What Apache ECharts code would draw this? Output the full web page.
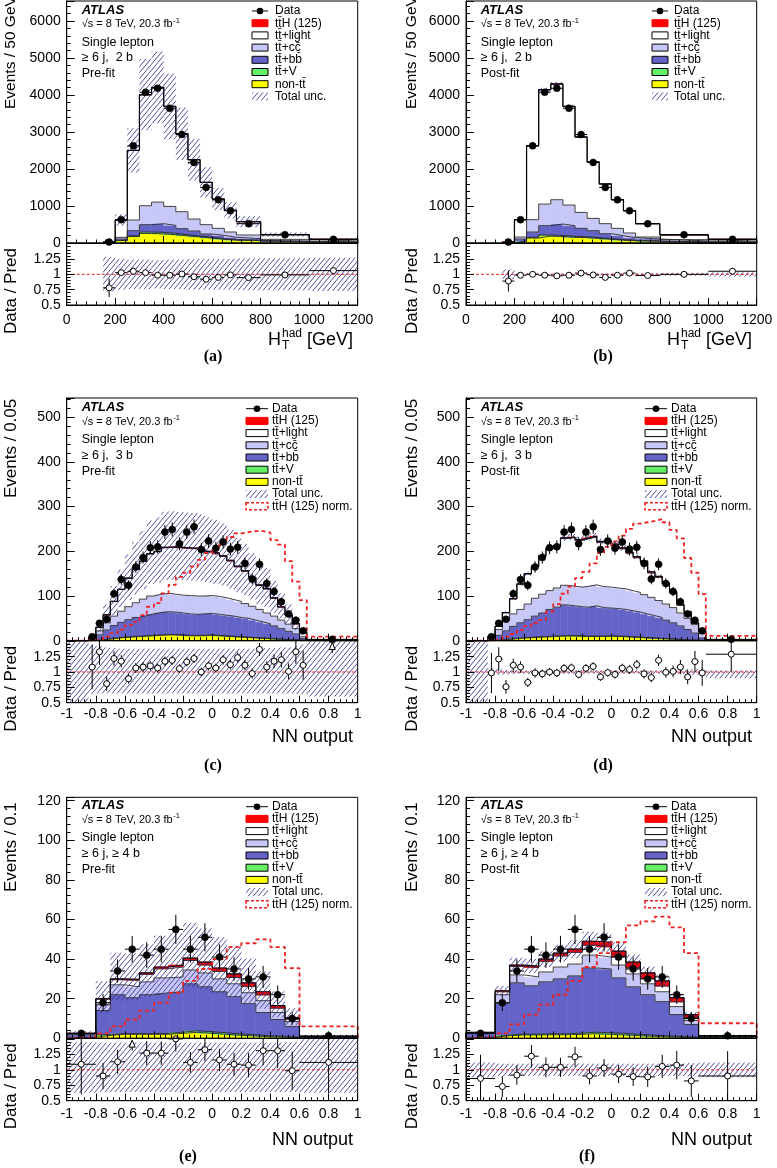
<!DOCTYPE html>
<html>
<head>
<meta charset="utf-8">
<title>ttH single lepton</title>
<script src="https://cdn.jsdelivr.net/npm/echarts@6.0.0/dist/echarts.min.js"></script>
<style>
html,body{margin:0;padding:0;background:#ffffff;}
#chart{width:777px;height:1168px;}
</style>
</head>
<body>
<div id="chart"></div>
<script>
// ================= DATA =================
// ---- (a),(b): H_T^had, >=6j 2b ----
const htEdges = [150,200,250,300,350,400,450,500,550,600,650,700,800,1000,1200];
const htData  = [27,630,2626,4074,4182,3642,2932,2176,1502,1169,872,522,225,100];
// pre-fit components
const aNonTT   = [4.5,64,173,257,246,223,193,163,133,101,78,62,31,15];
const aTTV     = [0.5,8,25,40,42,38,32,26,20,16,12,10,5,3];
const aTTbb    = [3,36,135,198,234,216,162,135,90,90,63,45,18,9];
const aTTcc    = [4,45,287,512,584,512,458,323,252,189,144,99,45,27];
const aTTlight = [23,467,1880,2995,3094,2698,2105,1601,1142,791,584,359,126,46];
const aTTH     = [0.1,1,4,6,7,6,5,4,3,2,2,1,0.5,0.3];
const aUnc     = [0.28,0.25,0.24,0.24,0.23,0.24,0.24,0.25,0.25,0.25,0.25,0.26,0.26,0.27];
const aRatio   = [0.78,1.027,1.05,1.027,0.985,0.985,1.005,0.96,0.92,0.95,0.99,0.946,0.99,1.06];
// post-fit components
const bNonTT   = [2.5,48,135,186,175,152,147,124,101,78,63,47,23,15.5];
const bTTV     = [0.5,6,18,30,32,28,24,20,16,12,9,7,4,2.5];
const bTTbb    = [3,54,144,252,306,288,225,189,135,108,72,54,27,9];
const bTTcc    = [4,54,333,584,656,557,431,332,270,198,126,54,36,27];
const bTTlight = [20,468,1996,3085,3121,2662,2033,1520,1070,773,602,360,130,46];
const bTTH     = [0.1,1.5,6,9,10,9,7,6,4,3,2.5,1.5,0.8,0.4];
const bUnc     = [0.08,0.015,0.012,0.012,0.012,0.012,0.013,0.014,0.015,0.016,0.018,0.02,0.025,0.035];
const bRatio   = [0.89,0.985,1.0,0.985,0.975,0.985,1.02,0.99,0.95,0.985,1.02,0.98,1.0,1.05];

// ---- (c),(d): NN output, >=6j 3b ----
const nn3Edges = [-1,-0.85,-0.8,-0.75,-0.7,-0.65,-0.6,-0.55,-0.5,-0.45,-0.4,-0.35,-0.3,-0.25,-0.2,-0.15,-0.1,-0.05,0,0.05,0.1,0.15,0.2,0.25,0.3,0.35,0.4,0.45,0.5,0.55,0.6,0.65,1];
const nn3Data  = [null,9,39,48,105,137,124,165,186,208,210,243,249,217,243,255,204,223,207,221,205,209,173,138,171,128,110,87,60,46,22,3];
const cNonTT   = [0,0.5,1.8,3.7,5.5,7.4,8.3,9.2,10.1,11,12,12.9,12.9,11.9,11,11,11,12,11,10.1,9.1,8.2,7.3,6.4,5.5,4.6,3.7,2.7,1.8,1.4,0.45,0.1];
const cTTV     = [0,0,0.2,0.3,0.5,0.6,0.7,0.8,0.9,1.0,1.0,1.1,1.1,1.1,1.0,1.0,1.0,1.0,1.0,0.9,0.9,0.8,0.7,0.6,0.5,0.4,0.3,0.3,0.2,0.1,0.05,0];
const cTTbb    = [0,1.5,11,20,28,33,38,42,45,48,50,51,50,49,48,47,48,48,47,46,45,43,42,39,36,33,29,24,19,13.5,4.5,0.4];
const cTTcc    = [0,1,9,16,21,25,29,33,37,40,41,41,40,40,41,41,40,40,40,39,37,36,33,31,28,24,22,19,16,12,4,0.5];
const cTTlight = [0.1,4,7.9,17.8,32.7,48.6,63.5,74.4,84.3,94.2,95.1,102,104.9,105.8,105.7,105.6,103.5,97.4,95.4,92.3,86.3,77.3,72.4,63.4,53.5,53.5,39.7,28.9,20.1,10.3,9.7,0.45];
const cTTH     = [0,0,0.1,0.2,0.3,0.4,0.5,0.6,0.7,0.8,0.9,1.0,1.1,1.2,1.3,1.4,1.5,1.6,1.6,1.7,1.7,1.7,1.6,1.6,1.5,1.5,1.3,1.1,0.9,0.7,0.3,0.05];
const cUncUp   = [1.0,0.45,0.42,0.40,0.39,0.38,0.38,0.38,0.38,0.38,0.38,0.38,0.38,0.38,0.38,0.38,0.38,0.38,0.38,0.38,0.38,0.38,0.38,0.38,0.38,0.39,0.39,0.40,0.40,0.42,0.45,0.5];
const cUncDn   = [1.0,0.36,0.35,0.35,0.35,0.35,0.35,0.35,0.35,0.35,0.35,0.35,0.35,0.35,0.35,0.35,0.35,0.35,0.35,0.35,0.35,0.35,0.35,0.35,0.35,0.35,0.35,0.35,0.35,0.36,0.36,0.4];
const cNorm    = [0,1,3,9,17,25,35,42,57,76,84,106,125,143,152,166,181,196,207,219,232,240,243,245,245,242,225,215,178,132,91,9];
const cRatio   = [null,1.08,1.33,0.81,1.22,1.175,0.89,1.065,1.08,1.1,1.065,1.175,1.19,1.055,1.165,1.22,1.0,1.1,1.065,1.2,1.12,1.235,1.11,0.975,1.37,1.08,1.175,1.2,1.01,1.33,1.11,1.8];

const dNonTT   = [0,0.4,1.6,3.2,4.5,5.9,6.8,7.7,8.6,9.0,10.0,10.4,10.4,9.9,9.5,9.5,9.5,10.0,9.5,9.1,8.1,7.2,6.3,5.4,4.5,4.1,3.2,2.2,1.6,1.1,0.45,0.1];
const dTTV     = [0,0,0.2,0.3,0.5,0.6,0.7,0.8,0.9,1.0,1.0,1.1,1.1,1.1,1.0,1.0,1.0,1.0,1.0,0.9,0.9,0.8,0.7,0.6,0.5,0.4,0.3,0.3,0.2,0.1,0.05,0];
const dTTbb    = [0,1.6,10.2,18.5,27,33.5,39.5,46.5,52.5,60,64,68.5,66.5,65,64.5,67.5,63.5,62,61.5,60,58,56,53,50,47,41.5,36.5,30.5,23.2,15.8,5.5,0.4];
const dTTcc    = [0,1,13,23,28,30,35,40,42,42,43,44,44,44,47,47,47,47,46,46,45,44,43,41,38,36,34,29,25,19,10,0.5];
const dTTlight = [0.1,6,6.9,17.8,33.6,56.5,67.4,71.2,85,93.9,92.8,104.6,108.5,104.4,106.3,107.1,99,101.9,95.8,89.7,83.7,77.6,72.6,54.7,51.7,44.8,33,17.3,13.6,3,5.5,0.45];
const dTTH     = [0,0,0.1,0.2,0.4,0.5,0.6,0.8,1.0,1.1,1.2,1.4,1.5,1.6,1.7,1.9,2.0,2.1,2.2,2.3,2.3,2.4,2.4,2.3,2.3,2.2,2.0,1.7,1.4,1.0,0.5,0.05];
const dUncUp   = [1.0,0.06,0.05,0.04,0.035,0.03,0.03,0.03,0.03,0.03,0.03,0.03,0.03,0.03,0.03,0.03,0.03,0.03,0.03,0.03,0.03,0.03,0.03,0.03,0.03,0.03,0.035,0.035,0.04,0.05,0.06,0.03];
const dUncDn   = [1.0,0.06,0.05,0.04,0.035,0.03,0.03,0.03,0.03,0.03,0.03,0.03,0.03,0.03,0.03,0.03,0.03,0.03,0.03,0.03,0.03,0.03,0.03,0.03,0.03,0.03,0.035,0.035,0.04,0.05,0.06,0.1];
const dNorm    = [0,1,4,9,15,24,33,40,46,65,82,105,121,140,154,173,196,210,222,235,250,262,265,268,272,265,248,229,185,152,104,11];
const dRatio   = [null,0.985,1.21,0.76,1.11,1.08,0.83,0.985,0.97,1.0,0.985,1.06,1.07,0.96,1.06,1.09,0.92,0.99,0.96,1.065,1.04,1.12,0.97,0.91,1.19,0.995,1.01,1.08,0.92,1.17,0.985,1.29];

// ---- (e),(f): NN output, >=6j >=4b ----
const nn4Edges = [-1,-0.8,-0.7,-0.6,-0.5,-0.4,-0.3,-0.2,-0.1,0,0.1,0.2,0.3,0.4,0.5,0.6,1];
const nn4Data  = [2.5,18,34,45,42,45,55,45,51,41,35,30,31,22,10,1.25];
const eNonTT   = [0.5,1.5,2,2,2,2,2.5,3,2.5,2,1.5,1.2,0.8,0.6,0.4,0.1];
const eTTV     = [0.1,0.3,0.4,0.4,0.4,0.5,0.6,0.8,0.8,0.8,0.7,0.6,0.5,0.4,0.2,0.05];
const eTTbb    = [1.2,12.2,19.6,18.1,19.6,20.5,20.4,23.7,22.7,20.7,18.8,15.7,11.7,8.5,5.4,0.25];
const eTTcc    = [0.4,3,5,5.5,6.5,7.5,7.5,7,7,6.5,6.5,5.5,6,3.5,2.5,0.2];
const eTTlight = [0.25,2.8,2.6,3.3,3.8,4.6,5.0,4.8,4.0,3.8,3.2,3.2,2.9,2.2,1.1,0.05];
const eTTH     = [0.05,0.2,0.4,0.5,0.7,0.9,1.0,1.2,1.5,1.7,1.8,1.8,1.6,1.3,0.9,0.2];
const eUncUp   = [0.45,0.44,0.44,0.44,0.44,0.44,0.44,0.44,0.44,0.44,0.44,0.44,0.44,0.44,0.45,0.5];
const eUncDn   = [0.37,0.36,0.36,0.36,0.36,0.36,0.36,0.36,0.36,0.36,0.36,0.36,0.36,0.36,0.36,0.37];
const eNorm    = [0.5,2.5,6,9.5,14,18,23,29,35,40,46,48,50,46,35.4,6];
const eRatio   = [1.09,0.9,1.13,1.55,1.27,1.27,1.5,1.12,1.325,1.16,1.09,1.076,1.31,1.31,0.985,1.12];

const fNonTT   = [0.5,1.3,1.7,1.7,1.8,1.8,2.0,2.3,2.0,1.7,1.3,1.0,0.7,0.5,0.3,0.1];
const fTTV     = [0.1,0.3,0.4,0.4,0.5,0.5,0.6,0.8,0.8,0.8,0.7,0.6,0.5,0.4,0.2,0.05];
const fTTbb    = [1.7,15.9,25.9,24.4,26.2,27.7,28.9,32.4,32.2,28,24,20.4,17.3,11.1,6.5,0.55];
const fTTcc    = [0.4,4.5,4,4.5,5,6,6,6.5,6,6.5,6.5,5.5,5,4,2,0.2];
const fTTlight = [0.2,1.5,4.3,4.7,5.4,5.6,5.9,5.0,5.1,4.3,3.1,2.7,2.9,2.4,1.5,0.15];
const fTTH     = [0.1,0.5,0.7,0.8,1.1,1.4,1.6,2.0,2.4,2.7,2.9,2.8,2.6,2.1,1.5,0.3];
const fUnc     = [0.12,0.1,0.1,0.1,0.1,0.1,0.1,0.1,0.1,0.1,0.1,0.1,0.1,0.1,0.11,0.12];
const fNorm    = [0.5,2.5,7,12,17,22,29,36,43,48.5,57,59,61.4,56,43,7.6];
const fRatio   = [0.86,0.73,0.914,1.22,1.04,1.04,1.21,0.90,1.03,0.93,0.89,0.886,1.055,1.076,0.82,0.90];

// tick labels
const htTickLabels   = [0,200,400,600,800,1000,1200];
const nnTickLabels   = [-1,-0.8,-0.6,-0.4,-0.2,0,0.2,0.4,0.6,0.8,1];
const yTickLabelsHT  = [0,1000,2000,3000,4000,5000,6000];
const yTickLabelsNN3 = [0,100,200,300,400,500];
const yTickLabelsNN4 = [0,20,40,60,80,100,120];
const ratioTickLabels = [0.5,0.75,1,1.25];

// legend names
const legendNames = ['Data','tt\u0304H (125)','tt\u0304+light','tt\u0304+cc\u0304','tt\u0304+bb\u0304','tt\u0304+V','non-tt\u0304','Total unc.','tt\u0304H (125) norm.'];

// ================= STYLE / LAYOUT =================
const FONT = '"Liberation Sans", Arial, Helvetica, sans-serif';
const SERIF = '"Liberation Serif", "Times New Roman", serif';
const COMP_COLORS = ['#ffff00','#66ee66','#6464c8','#c8c8f8','#ffffff','#ff0000']; // nonTT, ttV, ttbb, ttcc, light, ttH
const HATCH_COLOR = '#2a2a8a';
const RMIN = 0.5, RMAX = 1.51;

const ROWS = [
  {mainTop:1,     mainBot:243,    ratBot:305,    yMax:6540,  yInt:1000, yTicks:yTickLabelsHT,  xMin:0,  xMax:1200, xInt:200, xTicks:htTickLabels, xLabMargin:8, xTitleY:340, capY:357, off:0,     yTitleBottom:109, yTitleSize:15.5},
  {mainTop:398,   mainBot:640.7,  ratBot:702.7,  yMax:543,   yInt:100,  yTicks:yTickLabelsNN3, xMin:-1, xMax:1,    xInt:0.2, xTicks:nnTickLabels, xLabMargin:4, xTitleY:737, capY:766, off:397.7, yTitleBottom:498, yTitleSize:17},
  {mainTop:797.3, mainBot:1038.3, ratBot:1100.7, yMax:121.7, yInt:20,   yTicks:yTickLabelsNN4, xMin:-1, xMax:1,    xInt:0.2, xTicks:nnTickLabels, xLabMargin:6, xTitleY:1140, capY:1157, off:795.7, yTitleBottom:892, yTitleSize:17}
];
const COLS = [{left:66.7, right:357.7, textX:81.7, titleX:11, xTitleR:353}, {left:466, right:756.7, textX:480.7, titleX:412, xTitleR:752}];

const panels = [
  {row:0,col:0, edges:htEdges, data:htData, nom:50, comps:[aNonTT,aTTV,aTTbb,aTTcc,aTTlight,aTTH], up:aUnc, dn:aUnc, ratio:aRatio, norm:null,
   chan:'\u2265 6 j,  2 b', fit:'Pre-fit', cap:'(a)', capX:213, ytitle:'Events / 50 GeV', leg:{sx:252, sw:16, tx:275}},
  {row:0,col:1, edges:htEdges, data:htData, nom:50, comps:[bNonTT,bTTV,bTTbb,bTTcc,bTTlight,bTTH], up:bUnc, dn:bUnc, ratio:bRatio, norm:null,
   chan:'\u2265 6 j,  2 b', fit:'Post-fit', cap:'(b)', capX:603, ytitle:'Events / 50 GeV', leg:{sx:652, sw:16, tx:674}},
  {row:1,col:0, edges:nn3Edges, data:nn3Data, nom:0.05, comps:[cNonTT,cTTV,cTTbb,cTTcc,cTTlight,cTTH], up:cUncUp, dn:cUncDn, ratio:cRatio, norm:cNorm,
   chan:'\u2265 6 j,  3 b', fit:'Pre-fit', cap:'(c)', capX:213, ytitle:'Events / 0.05', leg:{sx:246, sw:22, tx:272}},
  {row:1,col:1, edges:nn3Edges, data:nn3Data, nom:0.05, comps:[dNonTT,dTTV,dTTbb,dTTcc,dTTlight,dTTH], up:dUncUp, dn:dUncDn, ratio:dRatio, norm:dNorm,
   chan:'\u2265 6 j,  3 b', fit:'Post-fit', cap:'(d)', capX:603, ytitle:'Events / 0.05', leg:{sx:645, sw:22, tx:671}},
  {row:2,col:0, edges:nn4Edges, data:nn4Data, nom:0.1, comps:[eNonTT,eTTV,eTTbb,eTTcc,eTTlight,eTTH], up:eUncUp, dn:eUncDn, ratio:eRatio, norm:eNorm,
   chan:'\u2265 6 j, \u2265 4 b', fit:'Pre-fit', cap:'(e)', capX:188, ytitle:'Events / 0.1', leg:{sx:246, sw:22, tx:272}},
  {row:2,col:1, edges:nn4Edges, data:nn4Data, nom:0.1, comps:[fNonTT,fTTV,fTTbb,fTTcc,fTTlight,fTTH], up:fUnc, dn:fUnc, ratio:fRatio, norm:fNorm,
   chan:'\u2265 6 j, \u2265 4 b', fit:'Post-fit', cap:'(f)', capX:587, ytitle:'Events / 0.1', leg:{sx:645, sw:22, tx:671}}
];

// ================= HELPERS =================
function makeHatch() {
  const w = 5, h = 6, c = document.createElement('canvas');
  c.width = w; c.height = h;
  const g = c.getContext('2d');
  g.strokeStyle = HATCH_COLOR; g.lineWidth = 0.85;
  g.beginPath();
  [-w, 0, w].forEach(dx => { g.moveTo(dx, h); g.lineTo(dx + w, 0); });
  g.stroke();
  return c;
}
const hatchFill = {image: makeHatch(), repeat: 'repeat'};

const mctx = document.createElement('canvas').getContext('2d');
function tw(s, size, weight) { mctx.font = (weight || 'normal') + ' ' + size + 'px ' + FONT; return mctx.measureText(s).width; }

function inList(list, v) { return list.some(t => Math.abs(t - v) < 1e-6); }

function rectRender(fill, stroke, lw) {
  return function (params, api) {
    const a = api.coord([api.value(0), api.value(2)]);
    const b = api.coord([api.value(1), api.value(3)]);
    return {type: 'rect', shape: {x: a[0], y: b[1], width: b[0] - a[0], height: a[1] - b[1]},
      style: {fill: fill, stroke: stroke, lineWidth: lw || 0}};
  };
}

function pointsRender(open, r, yMin, yMax) {
  return function (params, api) {
    const x = api.value(0), y = api.value(1), lo = api.value(2), hi = api.value(3), e = api.value(4);
    const st = {stroke: '#000', lineWidth: 1};
    const ch = [];
    if (y > yMax) {
      const p0 = api.coord([x, yMax - 0.2]), p1 = api.coord([x, yMax - 0.03]);
      ch.push({type: 'line', shape: {x1: p0[0], y1: p0[1], x2: p1[0], y2: p1[1] + 6}, style: st});
      ch.push({type: 'polygon', shape: {points: [[p1[0] - 3, p1[1] + 7], [p1[0] + 3, p1[1] + 7], [p1[0], p1[1]]]},
        style: {fill: '#fff', stroke: '#000', lineWidth: 1}});
      return {type: 'group', children: ch};
    }
    const c = api.coord([x, y]);
    const l = api.coord([lo, y]), h = api.coord([hi, y]);
    const t = api.coord([x, Math.min(y + e, yMax)]), b = api.coord([x, Math.max(y - e, yMin)]);
    ch.push({type: 'line', shape: {x1: l[0], y1: l[1], x2: h[0], y2: h[1]}, style: st});
    ch.push({type: 'line', shape: {x1: t[0], y1: t[1], x2: b[0], y2: b[1]}, style: st});
    ch.push({type: 'circle', shape: {cx: c[0], cy: c[1], r: r},
      style: open ? {fill: '#fff', stroke: '#000', lineWidth: 1} : {fill: '#000', stroke: '#000', lineWidth: 0.5}});
    return {type: 'group', children: ch};
  };
}

function stepSeries(ax, edges, vals, color, width, type, z) {
  const d = [[edges[0], 0]];
  vals.forEach((v, i) => d.push([edges[i], v]));
  d.push([edges[edges.length - 1], vals[vals.length - 1]]);
  d.push([edges[edges.length - 1], 0]);
  return {type: 'line', xAxisIndex: ax, yAxisIndex: ax, data: d, step: 'end', symbol: 'none', showSymbol: false,
    lineStyle: {color: color, width: width, type: type}, z: z, silent: true, animation: false};
}

function txt(x, y, s, size, o) {
  o = o || {};
  return {type: 'text', x: x, y: y, rotation: o.rot || 0, z: 200, silent: true,
    style: {text: s, fontSize: size, fontFamily: o.family || FONT, fontWeight: o.weight || 'normal',
      fontStyle: o.fstyle || 'normal', fill: '#000',
      textAlign: o.align || 'left', align: o.align || 'left',
      textVerticalAlign: o.valign || 'middle', verticalAlign: o.valign || 'middle'}};
}

function xAxisCfg(gi, row, labels) {
  return {type: 'value', gridIndex: gi, min: row.xMin, max: row.xMax, interval: row.xInt, z: 10,
    axisLine: {show: true, onZero: false, lineStyle: {color: '#000', width: 1}},
    axisTick: {show: true, inside: true, length: 7, lineStyle: {color: '#000', width: 1}},
    minorTick: {show: true, splitNumber: 5, length: 3.5, lineStyle: {color: '#000', width: 1}},
    splitLine: {show: false}, minorSplitLine: {show: false},
    axisLabel: {show: labels, color: '#000', fontSize: 14, fontFamily: FONT, margin: row.xLabMargin,
      formatter: v => inList(row.xTicks, v) ? String(Math.round(v * 100) / 100) : ''}};
}
function yAxisCfg(gi, min, max, interval, ticks, minorSplit) {
  return {type: 'value', gridIndex: gi, min: min, max: max, interval: interval, z: 10,
    axisLine: {show: true, onZero: false, lineStyle: {color: '#000', width: 1}},
    axisTick: {show: true, inside: true, length: 8, lineStyle: {color: '#000', width: 1}},
    minorTick: {show: true, splitNumber: minorSplit, length: 4, lineStyle: {color: '#000', width: 1}},
    splitLine: {show: false}, minorSplitLine: {show: false},
    axisLabel: {show: true, color: '#000', fontSize: 14, fontFamily: FONT, margin: 6,
      formatter: v => inList(ticks, v) ? String(Math.round(v * 100) / 100) : ''}};
}

// ================= BUILD =================
const grids = [], xAxes = [], yAxes = [], series = [], graphics = [];

panels.forEach((p, k) => {
  const row = ROWS[p.row], col = COLS[p.col];
  const gm = 2 * k, gr = 2 * k + 1;
  const width = col.right - col.left;
  grids.push({left: col.left, top: row.mainTop, width: width, height: row.mainBot - row.mainTop, outerBoundsMode: 'none', containLabel: false});
  grids.push({left: col.left, top: row.mainBot, width: width, height: row.ratBot - row.mainBot, outerBoundsMode: 'none', containLabel: false});
  xAxes.push(xAxisCfg(gm, row, false));
  xAxes.push(xAxisCfg(gr, row, true));
  yAxes.push(yAxisCfg(gm, 0, row.yMax, row.yInt, row.yTicks, 5));
  yAxes.push(yAxisCfg(gr, RMIN, RMAX, 0.25, ratioTickLabels, 5));

  const n = p.edges.length - 1;
  // stacked MC
  let base = p.edges.slice(0, n).map(() => 0);
  const tops = [];
  p.comps.forEach((vals, j) => {
    const top = vals.map((v, i) => base[i] + v);
    const items = vals.map((v, i) => [p.edges[i], p.edges[i + 1], base[i], top[i]]);
    series.push({type: 'custom', xAxisIndex: gm, yAxisIndex: gm, data: items, z: 2, silent: true,
      renderItem: rectRender(COMP_COLORS[j], COMP_COLORS[j], 0.6)});
    tops.push(top);
    base = top;
  });
  tops.forEach((t, j) => series.push(stepSeries(gm, p.edges, t, j === tops.length - 1 ? '#000' : '#2a2a2a', j === tops.length - 1 ? 1.2 : 0.9, 'solid', 3)));
  const total = base;
  // uncertainty band
  series.push({type: 'custom', xAxisIndex: gm, yAxisIndex: gm, z: 4, silent: true,
    data: total.map((t, i) => [p.edges[i], p.edges[i + 1], t * (1 - p.dn[i]), Math.min(row.yMax, t * (1 + p.up[i]))]),
    renderItem: rectRender(hatchFill, null, 0)});
  if (p.norm) series.push(stepSeries(gm, p.edges, p.norm, '#ee2222', 1.8, [4, 3], 5));
  // data points
  const pts = [], rpts = [];
  p.data.forEach((v, i) => {
    if (v == null) return;
    const w = p.edges[i + 1] - p.edges[i];
    const f = w / p.nom;
    const cnt = v * f;
    pts.push([(p.edges[i] + p.edges[i + 1]) / 2, v, p.edges[i], p.edges[i + 1], Math.sqrt(cnt) / f]);
    const r = p.ratio[i];
    if (r != null) rpts.push([(p.edges[i] + p.edges[i + 1]) / 2, r, p.edges[i], p.edges[i + 1], r / Math.sqrt(cnt)]);
  });
  series.push({type: 'custom', xAxisIndex: gm, yAxisIndex: gm, data: pts, z: 6, silent: true,
    renderItem: pointsRender(false, 3.5, 0, row.yMax)});

  // ratio panel
  series.push({type: 'custom', xAxisIndex: gr, yAxisIndex: gr, z: 4, silent: true,
    data: total.map((t, i) => [p.edges[i], p.edges[i + 1], Math.max(RMIN, 1 - p.dn[i]), Math.min(RMAX, 1 + p.up[i])]),
    renderItem: rectRender(hatchFill, null, 0)});
  series.push({type: 'line', xAxisIndex: gr, yAxisIndex: gr, data: [[row.xMin, 1], [row.xMax, 1]], symbol: 'none',
    lineStyle: {color: '#e02020', width: 1, type: [3, 2]}, z: 5, silent: true});
  series.push({type: 'custom', xAxisIndex: gr, yAxisIndex: gr, data: rpts, z: 6, silent: true,
    renderItem: pointsRender(true, 3, RMIN, RMAX)});

  // frames
  graphics.push({type: 'rect', z: 150, silent: true, shape: {x: col.left, y: row.mainTop, width: width, height: row.mainBot - row.mainTop},
    style: {fill: 'none', stroke: '#000', lineWidth: 1}});
  graphics.push({type: 'rect', z: 150, silent: true, shape: {x: col.left, y: row.mainBot, width: width, height: row.ratBot - row.mainBot},
    style: {fill: 'none', stroke: '#000', lineWidth: 1}});

  // text block
  const tx = col.textX, off = row.off;
  graphics.push(txt(tx, 10 + off, 'ATLAS', 13, {weight: 'bold', fstyle: 'italic'}));
  const sLine = '\u221As = 8 TeV, 20.3 fb';
  graphics.push(txt(tx, 24 + off, sLine, 11));
  graphics.push(txt(tx + tw(sLine, 11) + 0.5, 20.5 + off, '-1', 7.5));
  graphics.push(txt(tx, 42.3 + off, 'Single lepton', 12.5));
  graphics.push(txt(tx, 57.8 + off, p.chan, 12.5));
  graphics.push(txt(tx, 74 + off, p.fit, 12.5));

  // legend
  const L = p.leg, y0 = 11 + off, dy = 12.2;
  const nEntries = p.norm ? 9 : 8;
  for (let e = 0; e < nEntries; e++) {
    const y = y0 + e * dy;
    if (e === 0) {
      graphics.push({type: 'line', z: 200, silent: true, shape: {x1: L.sx, y1: y, x2: L.sx + L.sw, y2: y}, style: {stroke: '#000', lineWidth: 1}});
      graphics.push({type: 'circle', z: 201, silent: true, shape: {cx: L.sx + L.sw / 2, cy: y, r: 3.3}, style: {fill: '#000'}});
    } else if (e <= 6) {
      const colr = COMP_COLORS[6 - e];
      graphics.push({type: 'rect', z: 200, silent: true, shape: {x: L.sx, y: y - 3.5, width: L.sw, height: 7},
        style: {fill: colr, stroke: e === 1 ? '#ff0000' : '#000', lineWidth: 1}});
    } else if (e === 7) {
      graphics.push({type: 'rect', z: 200, silent: true, shape: {x: L.sx, y: y - 4, width: L.sw, height: 8},
        style: {fill: hatchFill, stroke: null}});
    } else {
      graphics.push({type: 'rect', z: 200, silent: true, shape: {x: L.sx, y: y - 3.5, width: L.sw, height: 7},
        style: {fill: 'none', stroke: '#ee2222', lineWidth: 1.6, lineDash: [3, 2]}});
    }
    graphics.push(txt(L.tx, y, legendNames[e], 12));
  }

  // axis titles
  graphics.push(txt(col.titleX, row.yTitleBottom, p.ytitle, row.yTitleSize, {rot: Math.PI / 2, align: 'left'}));
  graphics.push(txt(col.titleX, row.mainBot + 5, 'Data / Pred', 17, {rot: Math.PI / 2, align: 'right'}));
  if (p.row === 0) {
    const right = col.xTitleR;
    const wG = tw(' [GeV]', 18);
    graphics.push(txt(right, row.xTitleY, ' [GeV]', 18, {align: 'right'}));
    const wS = Math.max(tw('had', 12), tw('T', 12));
    const xs = right - wG - wS;
    graphics.push(txt(xs, row.xTitleY - 6, 'had', 12));
    graphics.push(txt(xs, row.xTitleY + 6, 'T', 12));
    graphics.push(txt(xs - 1, row.xTitleY, 'H', 18, {align: 'right'}));
  } else {
    graphics.push(txt(col.xTitleR, row.xTitleY, 'NN output', 18, {align: 'right'}));
  }
  graphics.push(txt(p.capX, row.capY, p.cap, 16, {family: SERIF, weight: 'bold', align: 'center'}));
});

const chart = echarts.init(document.getElementById('chart'), null, {renderer: 'canvas', width: 777, height: 1168});
chart.setOption({
  animation: false,
  backgroundColor: '#ffffff',
  textStyle: {fontFamily: FONT},
  grid: grids,
  xAxis: xAxes,
  yAxis: yAxes,
  series: series,
  graphic: {elements: graphics}
});
</script>
</body>
</html>
